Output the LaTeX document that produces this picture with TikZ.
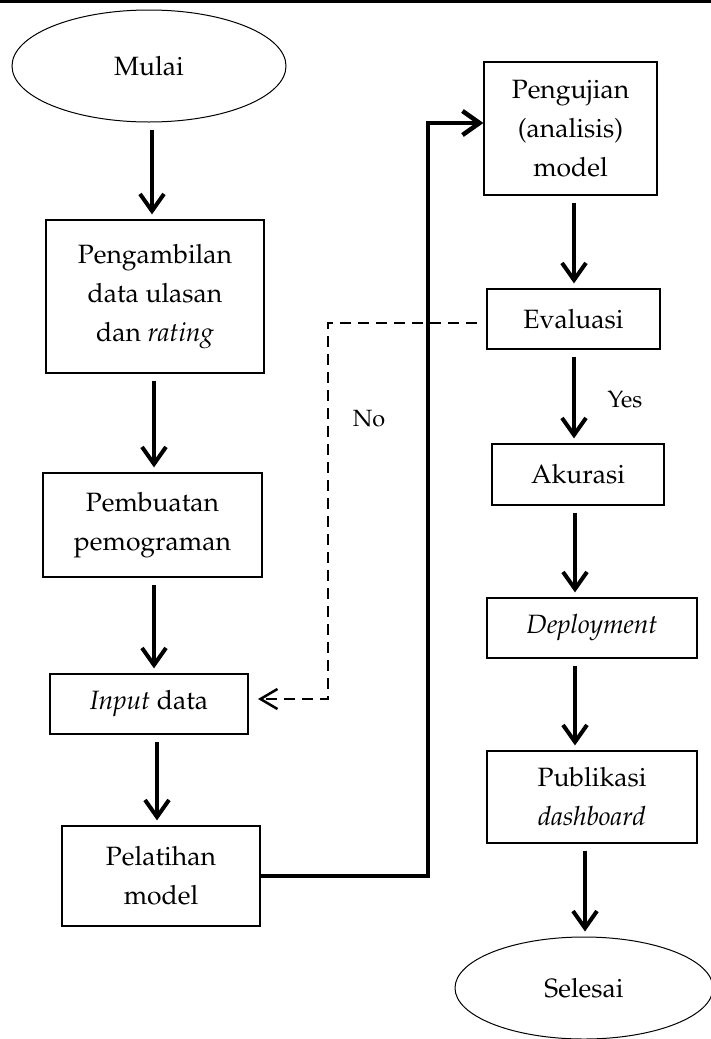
\documentclass[tikz,border=0pt]{standalone}
\usepackage[T1]{fontenc}
\usepackage{mathpazo}
\usetikzlibrary{arrows.meta,shapes.geometric}
\begin{document}
\begin{tikzpicture}[x=1pt,y=-1pt,
  every node/.style={font=\fontsize{26.5}{39}\selectfont},
  boxnode/.style={draw, line width=1.2pt, inner sep=0pt, align=center},
  ovalnode/.style={draw, ellipse, line width=1pt, inner sep=0pt},
  flowarrow/.style={line width=4pt, shorten <=7pt, shorten >=5pt,
    -{Straight Barb[length=17pt,width=24pt]}},
  backarrow/.style={line width=2.5pt, dash pattern=on 11pt off 7pt,
    -{Straight Barb[length=17pt,width=20pt]}},
  thickline/.style={line width=4.5pt, line join=miter,
    -{Straight Barb[length=17pt,width=24pt]}},
  labeltext/.style={font=\fontsize{23.5}{28}\selectfont}
]
\useasboundingbox (0,0) rectangle (711,1039);
\draw[line width=3pt] (0,1.5) -- (711,1.5);

% left column
\node[ovalnode, minimum width=274pt, minimum height=112pt] (mulai) at (149,66) {Mulai};
\node[boxnode, minimum width=218pt, minimum height=153pt] (amb) at (155,296.5) {Pengambilan\\data ulasan\\dan \textit{rating}};
\node[boxnode, minimum width=219pt, minimum height=104pt] (buat) at (152.5,525) {Pembuatan\\pemograman};
\node[boxnode, minimum width=198pt, minimum height=60pt] (inp) at (149,704) {\textit{Input} data};
\node[boxnode, minimum width=198pt, minimum height=100pt] (pel) at (161,876) {Pelatihan\\model};

% right column
\node[boxnode, minimum width=173pt, minimum height=133pt] (peng) at (570.5,128.5) {Pengujian\\(analisis)\\model};
\node[boxnode, minimum width=173pt, minimum height=60pt] (eva) at (573.5,319) {Evaluasi};
\node[boxnode, minimum width=172pt, minimum height=61pt] (aku) at (578,474.5) {Akurasi};
\node[boxnode, minimum width=210pt, minimum height=60pt] (dep) at (592,628) {\textit{Deployment}};
\node[boxnode, minimum width=210pt, minimum height=92pt] (pub) at (592,797) {Publikasi\\\textit{dashboard}};
\node[ovalnode, minimum width=258pt, minimum height=102pt] (sel) at (584,988) {Selesai};

% column x positions
\coordinate (xa) at (152,0);
\coordinate (xb) at (154,0);
\coordinate (xc) at (157,0);
\coordinate (xr) at (574,0);
\coordinate (xs) at (575,0);
\coordinate (xt) at (585,0);

\draw[flowarrow] (mulai.south -| xa) -- (amb.north -| xa);
\draw[flowarrow] (amb.south -| xb) -- (buat.north -| xb);
\draw[flowarrow] (buat.south -| xb) -- (inp.north -| xb);
\draw[flowarrow] (inp.south -| xc) -- (pel.north -| xc);
\draw[flowarrow] (peng.south -| xr) -- (eva.north -| xr);
\draw[flowarrow] (eva.south -| xr) -- (aku.north -| xr);
\draw[flowarrow] (aku.south -| xs) -- (dep.north -| xs);
\draw[flowarrow] (dep.south -| xs) -- (pub.north -| xs);
\draw[flowarrow] (pub.south -| xt) -- (sel.north -| xt);

% thick connector from Pelatihan to Pengujian
\coordinate (tup) at (428,123);
\draw[thickline] (pel.east) -| (tup) -- (peng.west |- tup);

% dashed feedback from Evaluasi to Input data
\coordinate (d1) at (328,323);
\coordinate (d2) at (328,699);
\coordinate (e1) at (477,323);
\coordinate (e2) at (258,699);
\draw[backarrow] (e1) -- (d1) -- (d2) -- (e2);

\node[labeltext] (no) at (369,419) {No};
\node[labeltext] (yes) at (625,400) {Yes};
\end{tikzpicture}
\end{document}
